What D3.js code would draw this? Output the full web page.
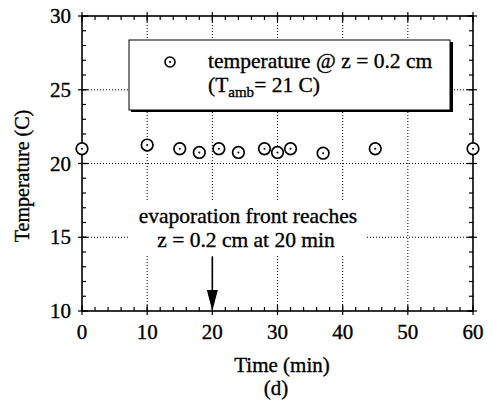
<!DOCTYPE html>
<html>
<head>
<meta charset="utf-8">
<script src="https://cdn.jsdelivr.net/npm/d3@7/dist/d3.min.js"></script>
<style>
  html, body { margin: 0; padding: 0; background: #fff; }
  svg { display: block; }
  svg text { stroke: #000; stroke-width: 0.35px; }
</style>
</head>
<body>
<svg id="chart" width="493" height="409" font-family="'Liberation Serif', 'Times New Roman', serif"></svg>
<script>
// ---- data ----
const timeMin = [0, 10, 15, 18, 21, 24, 28, 30, 32, 37, 45, 60];
const tempC   = [21.0, 21.25, 21.0, 20.75, 21.0, 20.75, 21.0, 20.75, 21.0, 20.7, 21.0, 21.0];
const xTicks = [0, 10, 20, 30, 40, 50, 60];
const yTicks = [10, 15, 20, 25, 30];
const xGrid = [10, 20, 30, 40, 50];
const yGrid = [15, 20, 25];
const xMinor = d3.range(0, 61, 2);
const yMinor = d3.range(10, 31, 1);
const arrowTime = 20;

const svg = d3.select("#chart");
const x = d3.scaleLinear().domain([0, 60]).range([82, 473]);
const y = d3.scaleLinear().domain([10, 30]).range([311, 16]);

// grid
const grid = svg.append("g").attr("stroke", "#000").attr("stroke-width", 1)
  .attr("stroke-dasharray", "1,2");
grid.selectAll(".vg").data(xGrid).join("line")
  .attr("x1", d => x(d)).attr("x2", d => x(d)).attr("y1", y(10)).attr("y2", y(30));
grid.selectAll(".hg").data(yGrid).join("line")
  .attr("x1", x(0)).attr("x2", x(60)).attr("y1", d => y(d)).attr("y2", d => y(d));

// annotation white background
svg.append("rect").attr("x", 129).attr("y", 202).attr("width", 236).attr("height", 54).attr("fill", "#fff");
svg.append("text").attr("x", 248).attr("y", 223).attr("text-anchor", "middle")
  .attr("font-size", 21.5).text("evaporation front reaches");
svg.append("text").attr("x", 246).attr("y", 247).attr("text-anchor", "middle")
  .attr("font-size", 21.5).text("z = 0.2 cm at 20 min");
// arrow
svg.append("line").attr("x1", x(arrowTime)).attr("x2", x(arrowTime))
  .attr("y1", 257).attr("y2", y(10) - 14).attr("stroke", "#000").attr("stroke-width", 1.6);
svg.append("path")
  .attr("d", `M${x(arrowTime) - 5.5},${y(10) - 21} L${x(arrowTime) + 5.5},${y(10) - 21} L${x(arrowTime)},${y(10)} Z`)
  .attr("fill", "#000");

// axes frame
const ax = svg.append("g").attr("stroke", "#000");
ax.append("rect").attr("x", x(0)).attr("y", y(30)).attr("width", x(60) - x(0)).attr("height", y(10) - y(30))
  .attr("fill", "none").attr("stroke-width", 1.6);
// minor ticks
ax.selectAll(".xb").data(xMinor).join("line")
  .attr("x1", d => x(d)).attr("x2", d => x(d)).attr("y1", y(10)).attr("y2", y(10) - 4).attr("stroke-width", 1.2);
ax.selectAll(".xt").data(xMinor).join("line")
  .attr("x1", d => x(d)).attr("x2", d => x(d)).attr("y1", y(30)).attr("y2", y(30) + 4).attr("stroke-width", 1.2);
ax.selectAll(".yl").data(yMinor).join("line")
  .attr("x1", x(0)).attr("x2", x(0) + 4).attr("y1", d => y(d)).attr("y2", d => y(d)).attr("stroke-width", 1.2);
ax.selectAll(".yr").data(yMinor).join("line")
  .attr("x1", x(60)).attr("x2", x(60) - 4).attr("y1", d => y(d)).attr("y2", d => y(d)).attr("stroke-width", 1.2);
// major ticks (cross axis)
ax.selectAll(".xmb").data(xTicks).join("line")
  .attr("x1", d => x(d)).attr("x2", d => x(d)).attr("y1", y(10) + 4).attr("y2", y(10) - 6).attr("stroke-width", 1.2);
ax.selectAll(".xmt").data(xTicks).join("line")
  .attr("x1", d => x(d)).attr("x2", d => x(d)).attr("y1", y(30) - 4).attr("y2", y(30) + 6).attr("stroke-width", 1.2);
ax.selectAll(".yml").data(yTicks).join("line")
  .attr("x1", x(0) - 4).attr("x2", x(0) + 6).attr("y1", d => y(d)).attr("y2", d => y(d)).attr("stroke-width", 1.2);
ax.selectAll(".ymr").data(yTicks).join("line")
  .attr("x1", x(60) + 4).attr("x2", x(60) - 6).attr("y1", d => y(d)).attr("y2", d => y(d)).attr("stroke-width", 1.2);

// tick labels
svg.selectAll(".xl").data(xTicks).join("text")
  .attr("x", d => x(d)).attr("y", 339).attr("text-anchor", "middle").attr("font-size", 21).text(d => d);
svg.selectAll(".ylab").data(yTicks).join("text")
  .attr("x", 71).attr("y", d => y(d) + 7).attr("text-anchor", "end").attr("font-size", 21).text(d => d);

// axis titles
svg.append("text").attr("x", 282).attr("y", 372).attr("text-anchor", "middle").attr("font-size", 21).text("Time (min)");
svg.append("text").attr("x", 276).attr("y", 395).attr("text-anchor", "middle").attr("font-size", 21).text("(d)");
svg.append("text").attr("transform", "translate(29,176) rotate(-90)").attr("text-anchor", "middle")
  .attr("font-size", 20).text("Temperature (C)");

// legend
const lg = svg.append("g");
lg.append("rect").attr("x", 131).attr("y", 42).attr("width", 322).attr("height", 70).attr("fill", "#000");
lg.append("rect").attr("x", 129).attr("y", 40).attr("width", 321).attr("height", 70)
  .attr("fill", "#fff").attr("stroke", "#000").attr("stroke-width", 1);
lg.append("circle").attr("cx", 170).attr("cy", 62).attr("r", 5).attr("fill", "#fff").attr("stroke", "#000").attr("stroke-width", 1.6);
lg.append("circle").attr("cx", 170).attr("cy", 62).attr("r", 1).attr("fill", "#000");
lg.append("text").attr("x", 208).attr("y", 68).attr("font-size", 21.5).text("temperature @ z = 0.2 cm");
const t2 = lg.append("text").attr("x", 208).attr("y", 92).attr("font-size", 21.5);
t2.append("tspan").text("(T");
t2.append("tspan").attr("font-size", 15).attr("dy", 5).text("amb");
t2.append("tspan").attr("dy", -5).text("= 21 C)");

// data points
const pts = svg.append("g");
pts.selectAll(".pt").data(timeMin).join("circle")
  .attr("cx", d => x(d)).attr("cy", (d, i) => y(tempC[i])).attr("r", 5.8)
  .attr("fill", "#fff").attr("stroke", "#000").attr("stroke-width", 1.7);
pts.selectAll(".dot").data(timeMin).join("circle")
  .attr("cx", d => x(d)).attr("cy", (d, i) => y(tempC[i])).attr("r", 1).attr("fill", "#000");
</script>
</body>
</html>
